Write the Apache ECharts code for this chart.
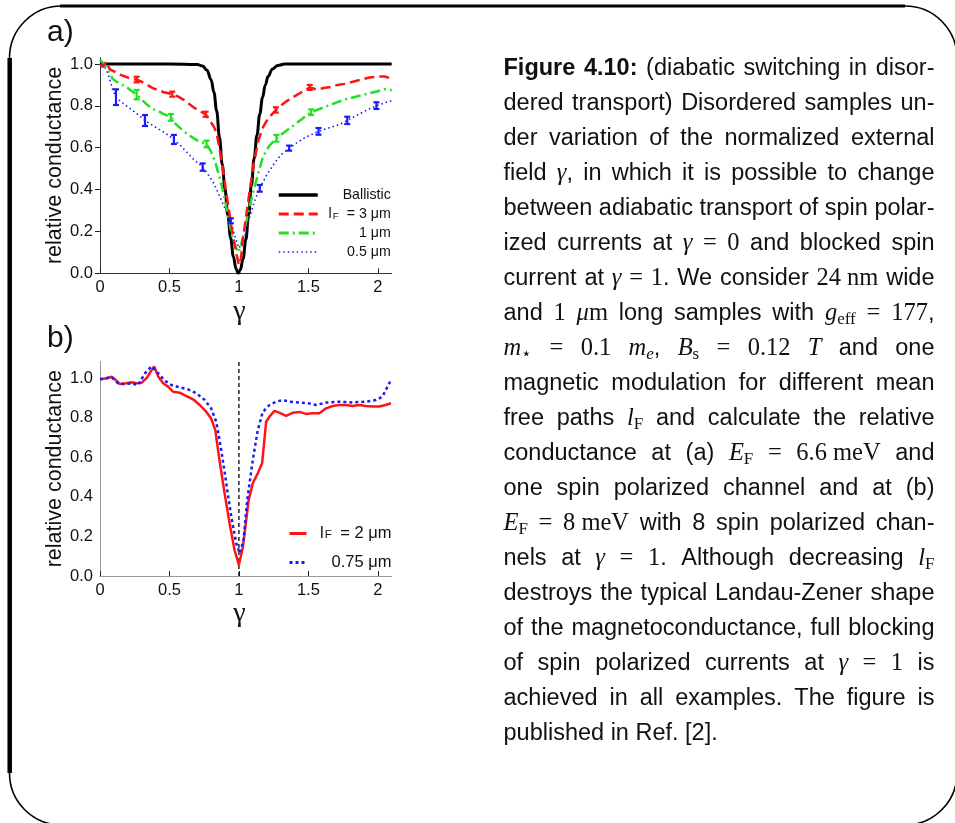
<!DOCTYPE html>
<html>
<head>
<meta charset="utf-8">
<script src="https://cdn.jsdelivr.net/npm/echarts@6/dist/echarts.min.js"></script>
<style>
  html, body { margin: 0; padding: 0; background: #fff; }
  #chart { width: 955px; height: 823px; }
</style>
</head>
<body>
<div id="chart"></div>
<script>
// ---------- panel a: relative conductance, one spin polarized channel ----------
const ballisticA = [[0,1],[0.5,1],[0.7,0.998],[0.74,0.99],[0.77,0.97],[0.8,0.925],[0.82,0.865],[0.84,0.775],
  [0.86,0.65],[0.88,0.52],[0.9,0.4],[0.92,0.28],[0.94,0.17],[0.96,0.08],[0.98,0.02],[0.995,0],[1.01,0.015],
  [1.03,0.07],[1.05,0.16],[1.07,0.28],[1.09,0.42],[1.11,0.55],[1.13,0.66],[1.15,0.76],[1.17,0.84],[1.19,0.9],
  [1.21,0.94],[1.24,0.975],[1.28,0.993],[1.33,1],[2.1,1]];

const mfp3A = [[0,1.0],[0.02,0.985],[0.045,1.01],[0.07,0.975],[0.1,0.965],[0.14,0.95],[0.18,0.94],[0.22,0.93],
  [0.264,0.925],[0.3,0.915],[0.34,0.9],[0.38,0.885],[0.42,0.875],[0.46,0.865],[0.52,0.856],[0.56,0.845],
  [0.6,0.83],[0.64,0.81],[0.68,0.79],[0.72,0.775],[0.76,0.76],[0.79,0.73],[0.82,0.7],[0.84,0.67],[0.875,0.54],
  [0.91,0.38],[0.947,0.22],[0.983,0.09],[1.0,0.04],[1.015,0.07],[1.03,0.17],[1.067,0.345],[1.103,0.51],
  [1.14,0.635],[1.175,0.70],[1.21,0.74],[1.266,0.78],[1.3,0.8],[1.35,0.825],[1.4,0.845],[1.45,0.865],
  [1.51,0.888],[1.56,0.878],[1.61,0.885],[1.66,0.89],[1.71,0.9],[1.76,0.905],[1.82,0.915],[1.88,0.925],
  [1.94,0.935],[2.0,0.94],[2.05,0.94],[2.1,0.93]];

const mfp1A = [[0,1.02],[0.03,1.0],[0.06,0.97],[0.09,0.93],[0.12,0.915],[0.16,0.9],[0.2,0.885],[0.23,0.87],
  [0.264,0.853],[0.3,0.83],[0.34,0.805],[0.38,0.785],[0.42,0.775],[0.46,0.76],[0.51,0.745],[0.55,0.71],
  [0.6,0.68],[0.65,0.655],[0.7,0.635],[0.767,0.618],[0.8,0.58],[0.83,0.53],[0.86,0.46],[0.89,0.38],
  [0.92,0.28],[0.95,0.18],[0.98,0.12],[1.0,0.1],[1.03,0.175],[1.067,0.29],[1.1,0.38],[1.14,0.48],
  [1.175,0.56],[1.22,0.61],[1.27,0.645],[1.32,0.67],[1.38,0.7],[1.44,0.73],[1.52,0.77],[1.58,0.785],
  [1.64,0.8],[1.7,0.815],[1.76,0.83],[1.82,0.84],[1.88,0.85],[1.94,0.86],[2.0,0.87],[2.05,0.88],[2.1,0.875]];

const mfp05A = [[0,1.02],[0.03,0.99],[0.06,0.95],[0.09,0.88],[0.115,0.84],[0.15,0.82],[0.2,0.795],[0.25,0.77],
  [0.29,0.75],[0.324,0.73],[0.37,0.71],[0.42,0.69],[0.47,0.67],[0.532,0.64],[0.58,0.61],[0.63,0.575],
  [0.68,0.54],[0.739,0.508],[0.78,0.47],[0.82,0.43],[0.86,0.37],[0.9,0.31],[0.942,0.25],[0.97,0.18],
  [1.0,0.12],[1.03,0.15],[1.07,0.25],[1.11,0.34],[1.15,0.406],[1.2,0.47],[1.25,0.52],[1.3,0.565],
  [1.362,0.598],[1.42,0.625],[1.48,0.65],[1.573,0.678],[1.65,0.695],[1.72,0.71],[1.78,0.73],[1.85,0.755],
  [1.92,0.78],[1.99,0.80],[2.05,0.815],[2.1,0.825]];

// error bars: [gamma, low, high]
const mfp3Err = [[0.264,0.912,0.939],[0.52,0.844,0.868],[0.76,0.748,0.772],[1.266,0.768,0.793],[1.51,0.876,0.9]];
const mfp1Err = [[0.264,0.831,0.876],[0.51,0.729,0.761],[0.767,0.602,0.634],[1.27,0.629,0.661],[1.52,0.756,0.783]];
const mfp05Err = [[0.115,0.804,0.879],[0.324,0.704,0.756],[0.532,0.618,0.661],[0.739,0.49,0.525],
  [0.942,0.239,0.263],[1.15,0.39,0.422],[1.362,0.586,0.61],[1.573,0.662,0.694],[1.78,0.713,0.748],[1.99,0.785,0.817]];

// ---------- panel b: eight spin polarized channels ----------
const mfp2B = [[0,0.995],[0.048,1.0],[0.084,1.008],[0.108,0.995],[0.144,0.971],[0.19,0.975],[0.227,0.98],
  [0.263,0.975],[0.3,0.978],[0.335,1.0],[0.37,1.04],[0.39,1.06],[0.42,1.008],[0.455,0.975],[0.49,0.958],
  [0.526,0.932],[0.574,0.927],[0.622,0.91],[0.67,0.894],[0.718,0.865],[0.766,0.83],[0.8,0.797],[0.83,0.738],
  [0.86,0.587],[0.897,0.418],[0.933,0.266],[0.969,0.13],[1.0,0.056],[1.029,0.148],[1.07,0.384],[1.1,0.469],
  [1.136,0.52],[1.167,0.57],[1.196,0.78],[1.22,0.806],[1.256,0.835],[1.29,0.826],[1.34,0.81],[1.39,0.826],
  [1.435,0.83],[1.483,0.82],[1.53,0.823],[1.58,0.823],[1.627,0.848],[1.675,0.86],[1.72,0.865],[1.77,0.865],
  [1.818,0.86],[1.866,0.865],[1.914,0.86],[1.96,0.857],[2.01,0.857],[2.057,0.865],[2.094,0.874]];

const mfp075B = [[0,0.995],[0.084,1.005],[0.13,0.975],[0.18,0.97],[0.227,0.975],[0.275,0.966],[0.323,1.025],
  [0.37,1.06],[0.42,1.025],[0.467,0.988],[0.514,0.966],[0.574,0.954],[0.634,0.944],[0.694,0.924],[0.754,0.89],
  [0.8,0.848],[0.837,0.78],[0.873,0.637],[0.909,0.469],[0.945,0.30],[0.981,0.165],[1.005,0.115],[1.033,0.18],
  [1.06,0.385],[1.1,0.587],[1.136,0.738],[1.172,0.83],[1.22,0.865],[1.268,0.882],[1.316,0.89],[1.364,0.882],
  [1.435,0.877],[1.507,0.873],[1.555,0.865],[1.627,0.877],[1.72,0.882],[1.818,0.878],[1.914,0.882],
  [1.986,0.89],[2.033,0.907],[2.07,0.958],[2.094,0.99]];

const gammaOneLine = [[1,0],[1,1.085]];

// axis ticks
const xTicks = [0, 0.5, 1, 1.5, 2];
const yTicks = [0, 0.2, 0.4, 0.6, 0.8, 1.0];

// caption text: * bold *, $ math italic $, % math roman %, _ roman subscript _, ^ italic subscript ^, ~ fixed space
const captionLines = [
  '*Figure* *4.10:* (diabatic switching in disor-',
  'dered transport) Disordered samples un-',
  'der variation of the normalized external',
  'field $γ$, in which it is possible to change',
  'between adiabatic transport of spin polar-',
  'ized currents at $γ$ %=% %0% and blocked spin',
  'current at $γ$ %=% %1%. We consider %24~nm% wide',
  'and %1% $μ$%m% long samples with $g$_eff_ %=% %177%,',
  '$m$_⋆_ %=% %0.1% $m$^e^, $B$_s_ %=% %0.12% $T$ and one',
  'magnetic modulation for different mean',
  'free paths $l$_F_ and calculate the relative',
  'conductance at (a) $E$_F_ %=% %6.6~meV% and',
  'one spin polarized channel and at (b)',
  '$E$_F_ %=% %8~meV% with 8 spin polarized chan-',
  'nels at $γ$ %=% %1%. Although decreasing $l$_F_',
  'destroys the typical Landau-Zener shape',
  'of the magnetoconductance, full blocking',
  'of spin polarized currents at $γ$ %=% %1% is',
  'achieved in all examples. The figure is',
  'published in Ref. [2].'
];

const SANS = '"Liberation Sans", Arial, sans-serif';
const SERIF = '"Liberation Serif", "Times New Roman", serif';
const TEXT = '#111';

// ---------- caption layout (fully justified lines) ----------
const CAP_X = 503.5, CAP_W = 431, CAP_Y0 = 69, CAP_DY = 35;
const FONTS = {
  n: '23.5px ' + SANS,
  b: 'bold 23.5px ' + SANS,
  m: 'italic 24.5px ' + SERIF,
  r: '24.5px ' + SERIF,
  s: '17px ' + SERIF,
  si: 'italic 17px ' + SERIF
};
const measureCtx = document.createElement('canvas').getContext('2d');
function measure(kind, text) {
  measureCtx.font = FONTS[kind];
  return measureCtx.measureText(text).width;
}
function parseWord(w) {
  const re = /\*([^*]*)\*|\$([^$]*)\$|%([^%]*)%|_([^_]*)_|\^([^^]*)\^|([^*$%_^]+)/g;
  const out = [];
  let m;
  while ((m = re.exec(w))) {
    let piece;
    if (m[1] != null) piece = ['b', m[1]];
    else if (m[2] != null) piece = ['m', m[2]];
    else if (m[3] != null) piece = ['r', m[3]];
    else if (m[4] != null) piece = ['s', m[4]];
    else if (m[5] != null) piece = ['si', m[5]];
    else piece = ['n', m[6]];
    piece[1] = piece[1].replace(/~/g, ' ');
    out.push(piece);
  }
  return out;
}
function captionElements() {
  const els = [];
  captionLines.forEach((line, i) => {
    const words = line.split(' ').map(parseWord);
    const widths = words.map(w => w.reduce((s, p) => s + measure(p[0], p[1]), 0));
    const total = widths.reduce((a, b) => a + b, 0);
    const isLast = i === captionLines.length - 1;
    const gap = isLast ? measure('n', ' ') : (CAP_W - total) / (words.length - 1);
    const yc = CAP_Y0 + i * CAP_DY;
    let x = CAP_X;
    words.forEach((w, j) => {
      let xx = x;
      w.forEach(p => {
        const sub = p[0] === 's' || p[0] === 'si';
        els.push({
          type: 'text', x: xx, y: yc + (sub ? 6 : 0), silent: true,
          style: { text: p[1], font: FONTS[p[0]], fill: TEXT,
                   align: 'left', verticalAlign: 'middle', textAlign: 'left', textVerticalAlign: 'middle' }
        });
        xx += measure(p[0], p[1]);
      });
      x += widths[j] + gap;
    });
  });
  return els;
}

// ---------- helpers ----------
function errorBars(color) {
  return function (params, api) {
    const x = api.value(0);
    const p1 = api.coord([x, api.value(1)]);
    const p2 = api.coord([x, api.value(2)]);
    const cap = 3;
    const st = { stroke: color, lineWidth: 2.2 };
    return {
      type: 'group',
      children: [
        { type: 'line', shape: { x1: p1[0], y1: p1[1], x2: p2[0], y2: p2[1] }, style: st },
        { type: 'line', shape: { x1: p1[0] - cap, y1: p1[1], x2: p1[0] + cap, y2: p1[1] }, style: st },
        { type: 'line', shape: { x1: p2[0] - cap, y1: p2[1], x2: p2[0] + cap, y2: p2[1] }, style: st }
      ]
    };
  };
}
function legendLabel(name) {
  if (name.indexOf('l_F') === 0) return '{t|l}{s|F}{t|' + name.slice(3) + '}';
  return '{t|' + name + '}';
}
function legendRich(size) {
  return {
    t: { fontFamily: SANS, fontSize: size, color: TEXT, align: 'right', lineHeight: 14 },
    s: { fontFamily: SANS, fontSize: size * 0.7, color: TEXT, align: 'right', verticalAlign: 'bottom', lineHeight: 1,
         padding: [0, 4, 0, 1] }
  };
}
function xAxisFor(gridIndex, lineColor) {
  return {
    type: 'value', gridIndex, min: 0, max: 2.1,
    axisLine: { show: true, lineStyle: { color: lineColor, width: 1 } },
    axisTick: { show: true, inside: true, length: 5, customValues: xTicks, lineStyle: { color: '#222', width: 1 } },
    axisLabel: { customValues: xTicks, margin: 6, fontFamily: SANS, fontSize: 16.5, color: TEXT },
    splitLine: { show: false },
    name: 'γ', nameLocation: 'middle', nameGap: 22,
    nameTextStyle: { fontFamily: SERIF, fontSize: 28, color: TEXT, padding: [0, 13, 0, 0] }
  };
}
function yAxisFor(gridIndex, max, lineColor, showTicks, labelMargin) {
  return {
    type: 'value', gridIndex, min: 0, max,
    axisLine: { show: true, lineStyle: { color: lineColor, width: 1 } },
    axisTick: { show: showTicks, inside: false, length: 5, customValues: yTicks, lineStyle: { color: '#222', width: 1 } },
    axisLabel: { customValues: yTicks, margin: labelMargin, fontFamily: SANS, fontSize: 16.5, color: TEXT,
                 formatter: v => v.toFixed(1) },
    splitLine: { show: false },
    name: 'relative conductance', nameLocation: 'middle', nameGap: 32,
    nameTextStyle: { fontFamily: SANS, fontSize: 21.5, color: TEXT }
  };
}

const RED = '#ff1414', GREEN = '#22e022', BLUE = '#1a1aff';

const option = {
  animation: false,
  backgroundColor: '#fff',
  grid: [
    { left: 100, top: 57.7, width: 291.7, height: 215.6 },
    { left: 100, top: 361.5, width: 291.7, height: 214.5 }
  ],
  xAxis: [xAxisFor(0, '#333'), xAxisFor(1, '#999')],
  yAxis: [yAxisFor(0, 1.03, '#333', true, 7), yAxisFor(1, 1.085, '#999', false, 7)],
  legend: [
    {
      data: [
        { name: 'Ballistic', lineStyle: { width: 3.5 } },
        { name: 'l_F = 3 μm', lineStyle: { width: 3 } },
        { name: '1 μm', lineStyle: { width: 3 } },
        { name: '0.5 μm', lineStyle: { width: 1.6 } }
      ],
      orient: 'vertical', left: 277, top: 188, itemWidth: 39, itemHeight: 14, itemGap: 5,
      padding: 0, selectedMode: false,
      itemStyle: { opacity: 0 },
      formatter: legendLabel,
      textStyle: { width: 68, rich: legendRich(14.2) }
    },
    {
      data: [
        { name: 'l_F = 2 μm', lineStyle: { width: 3 } },
        { name: '0.75 μm', lineStyle: { width: 3 } }
      ],
      orient: 'vertical', left: 288, top: 525, itemWidth: 17, itemHeight: 14, itemGap: 12,
      padding: 0, selectedMode: false,
      itemStyle: { opacity: 0 },
      formatter: legendLabel,
      textStyle: { width: 80, rich: legendRich(16.5) }
    }
  ],
  series: [
    { name: 'Ballistic', type: 'line', xAxisIndex: 0, yAxisIndex: 0, data: ballisticA, symbol: 'none',
      smooth: 0.4, smoothMonotone: 'x', lineStyle: { color: '#000', width: 3 }, itemStyle: { color: '#000' } },
    { name: '0.5 μm', type: 'line', xAxisIndex: 0, yAxisIndex: 0, data: mfp05A, symbol: 'none',
      lineStyle: { color: BLUE, width: 1.6, type: [1.5, 3] }, itemStyle: { color: BLUE } },
    { name: '1 μm', type: 'line', xAxisIndex: 0, yAxisIndex: 0, data: mfp1A, symbol: 'none',
      lineStyle: { color: GREEN, width: 2.5, type: [10, 4, 2, 4] }, itemStyle: { color: GREEN } },
    { name: 'l_F = 3 μm', type: 'line', xAxisIndex: 0, yAxisIndex: 0, data: mfp3A, symbol: 'none',
      lineStyle: { color: RED, width: 2.5, type: [10, 5] }, itemStyle: { color: RED } },
    { name: 'err 0.5', type: 'custom', xAxisIndex: 0, yAxisIndex: 0, data: mfp05Err,
      encode: { x: 0, y: [1, 2] }, renderItem: errorBars(BLUE), z: 5 },
    { name: 'err 1', type: 'custom', xAxisIndex: 0, yAxisIndex: 0, data: mfp1Err,
      encode: { x: 0, y: [1, 2] }, renderItem: errorBars(GREEN), z: 5 },
    { name: 'err 3', type: 'custom', xAxisIndex: 0, yAxisIndex: 0, data: mfp3Err,
      encode: { x: 0, y: [1, 2] }, renderItem: errorBars(RED), z: 5 },
    { name: 'γ = 1', type: 'line', xAxisIndex: 1, yAxisIndex: 1, data: gammaOneLine, symbol: 'none',
      lineStyle: { color: '#000', width: 1.3, type: [4, 3] } },
    { name: 'l_F = 2 μm', type: 'line', xAxisIndex: 1, yAxisIndex: 1, data: mfp2B, symbol: 'none',
      lineStyle: { color: RED, width: 2.5 }, itemStyle: { color: RED } },
    { name: '0.75 μm', type: 'line', xAxisIndex: 1, yAxisIndex: 1, data: mfp075B, symbol: 'none',
      lineStyle: { color: BLUE, width: 2.5, type: [3, 3] }, itemStyle: { color: BLUE } }
  ],
  graphic: [
    // rounded frame, heavier top and left edges
    { type: 'rect', silent: true, shape: { x: 9.5, y: 6, width: 947.5, height: 819, r: 52 },
      style: { fill: 'none', stroke: '#000', lineWidth: 1.6 } },
    { type: 'line', silent: true, shape: { x1: 60, y1: 6, x2: 905, y2: 6 }, style: { stroke: '#000', lineWidth: 3 } },
    { type: 'line', silent: true, shape: { x1: 9.7, y1: 58, x2: 9.7, y2: 773 }, style: { stroke: '#000', lineWidth: 4.5 } },
    // panel labels
    { type: 'text', x: 47, y: 33, silent: true,
      style: { text: 'a)', font: '30px ' + SANS, fill: TEXT, align: 'left', verticalAlign: 'middle' } },
    { type: 'text', x: 47, y: 339, silent: true,
      style: { text: 'b)', font: '30px ' + SANS, fill: TEXT, align: 'left', verticalAlign: 'middle' } }
  ].concat(captionElements())
};

const chart = echarts.init(document.getElementById('chart'), null, { renderer: 'canvas' });
chart.setOption(option);
</script>
</body>
</html>
